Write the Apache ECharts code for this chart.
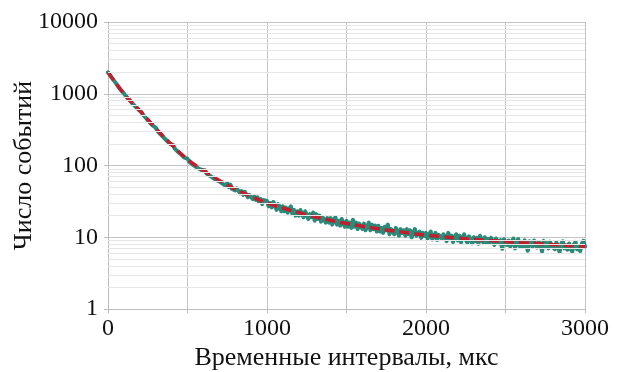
<!doctype html>
<html>
<head>
<meta charset="utf-8">
<script src="https://cdn.jsdelivr.net/npm/echarts@6/dist/echarts.min.js"></script>
<style>
    html, body {margin: 0; padding: 0; background: #fff;}
    #chart {width: 619px; height: 372px;}
</style>
</head>
<body>
<div id="chart"></div>
<script>
    // измерения: шаг 10 мкс, 0..3000
    var stepMeas = 10;
    var counts = [
        1985, 1890, 1720, 1642, 1498, 1430, 1305, 1248, 1136, 1085,
        1012, 938, 905, 840, 815, 748, 732, 672, 655, 604,
        571, 556, 510, 498, 455, 446, 405, 398, 362, 355,
        338, 305, 301, 272, 276, 247, 248, 221, 224, 200,
        190, 193, 172, 174, 155, 160, 142, 146, 129, 131,
        125, 113, 118, 104, 110, 97, 102, 91, 95, 86,
        83, 86, 77, 80, 72, 76, 67, 71, 63, 66,
        60, 63, 56, 59, 52, 57, 50, 54, 47, 50,
        45, 48, 46, 41, 44, 39, 43, 41, 36, 39,
        38, 34, 37, 33, 36, 31, 34, 29, 33, 31,
        32, 27, 30, 26, 31, 28, 24, 29, 27, 23,
        27, 23, 26, 22, 25, 27, 21, 24, 20, 23,
        20, 24, 21, 19, 23, 22, 18, 21, 19, 22,
        17, 21, 18, 20, 16.5, 19, 20, 16, 18.5, 16,
        18.5, 15, 17.5, 19, 15, 17, 14.5, 18, 15.5, 14,
        17, 14, 16, 13.5, 17.5, 14, 16, 13, 15.5, 16,
        13, 15.5, 12.5, 14, 16, 12.5, 15, 13, 14.5, 12,
        14.5, 12, 13.5, 11.5, 14, 12.5, 15, 11, 13, 12.5,
        11, 13.5, 12, 10.5, 13, 11.5, 12.5, 10.5, 13, 11,
        12.5, 10, 11.5, 13, 10.5, 11, 12, 9.8, 11.5, 10.5,
        11.5, 9.5, 11, 12, 9.3, 10.5, 11.5, 9.2, 10.8, 11,
        9.5, 11, 10, 8.8, 11.5, 9.8, 10.5, 8.6, 10.2, 11,
        9, 10.5, 8.5, 10, 11, 9.2, 8.4, 10.3, 9.5, 8.2,
        10, 8.8, 9.8, 8.1, 10.5, 9.2, 8.5, 10, 8.3, 9.5,
        8.4, 9.8, 8.8, 7.8, 9.6, 10.2, 8.2, 9.1, 6.9, 9.4,
        9.3, 7.8, 9.0, 7.4, 8.7, 9.6, 7.0, 8.4, 9.4, 7.5,
        8.6, 7.3, 9.1, 7.9, 6.5, 8.8, 8.2, 7.4, 9.0, 7.7,
        7.2, 8.6, 8.0, 6.3, 8.9, 7.5, 8.3, 7.0, 8.7, 7.6,
        8.1, 6.8, 8.5, 7.3, 6.2, 8.1, 8.8, 7.0, 7.7, 6.7,
        8.2, 6.9, 6.3, 7.9, 8.6, 6.8, 7.5, 6.4, 8.1, 8.9,
        7.4
    ];

    // аппроксимация: шаг 100 мкс
    var stepFit = 100;
    var fit = [2000, 1000, 580, 330, 195, 122, 85, 62, 47, 37,
        30, 25.5, 22, 19.3, 17.2, 15.5, 14.2, 13.1, 12.2, 11.4,
        10.7, 10.2, 9.7, 9.3, 9.0, 8.7, 8.4, 8.2, 7.9, 7.7, 7.5];

    var xTicks = [0, 1000, 2000, 3000];
    var yMinorGrid = [2, 3, 4, 5, 6, 7, 8, 9, 20, 30, 40, 50, 60, 70, 80, 90,
        200, 300, 400, 500, 600, 700, 800, 900, 2000, 3000, 4000, 5000, 6000, 7000, 8000, 9000];

    var myChart = echarts.init(document.getElementById('chart'));
    var font = '"Liberation Serif", "Times New Roman", serif';

    var option = {
        animation: false,
        grid: {left: 108, right: 34, top: 22, bottom: 63, outerBoundsMode: 'none', containLabel: false},
        xAxis: {
            type: 'value',
            min: 0,
            max: 3000,
            interval: 500,
            name: 'Временные интервалы, мкс',
            nameLocation: 'middle',
            nameGap: 36,
            nameMoveOverlap: false,
            nameTextStyle: {fontFamily: font, fontSize: 26, color: '#111'},
            axisLine: {show: true, lineStyle: {color: '#bdbdbd'}},
            axisTick: {show: true, length: 4, lineStyle: {color: '#bdbdbd'}},
            axisLabel: {
                fontFamily: font, fontSize: 24, color: '#111', margin: 8,
                formatter: function (v) {
                    return xTicks.indexOf(v) >= 0 ? String(v) : '';
                }
            },
            splitLine: {show: true, lineStyle: {color: '#c4c4c4', width: 1}}
        },
        yAxis: {
            type: 'log',
            logBase: 10,
            min: 1,
            max: 10000,
            name: 'Число событий',
            nameLocation: 'middle',
            nameGap: 71,
            nameMoveOverlap: false,
            nameRotate: 90,
            nameTextStyle: {fontFamily: font, fontSize: 26, color: '#111'},
            axisLine: {show: true, lineStyle: {color: '#bdbdbd'}},
            axisTick: {show: true, length: 4, lineStyle: {color: '#bdbdbd'}},
            axisLabel: {
                fontFamily: font, fontSize: 24, color: '#111', margin: 10,
                formatter: function (v) { return String(Math.round(v)); }
            },
            splitLine: {show: true, lineStyle: {color: '#c4c4c4', width: 1}}
        },
        series: [
            {
                type: 'line',
                data: [],
                z: 1,
                silent: true,
                markLine: {
                    silent: true,
                    symbol: 'none',
                    animation: false,
                    label: {show: false},
                    lineStyle: {color: '#e6e6e6', width: 1, type: 'solid'},
                    data: yMinorGrid.map(function (v) { return {yAxis: v}; })
                }
            },
            {
                type: 'line',
                data: counts.map(function (v, i) { return [i * stepMeas, v]; }),
                showSymbol: false,
                sampling: 'none',
                z: 3,
                lineStyle: {color: '#2b8a78', width: 4, type: 'solid', join: 'round', cap: 'round'}
            },
            {
                type: 'line',
                data: fit.map(function (v, i) { return [i * stepFit, v]; }),
                showSymbol: false,
                smooth: true,
                z: 4,
                lineStyle: {color: '#bf1f2e', width: 3.5, type: [10, 5]}
            }
        ]
    };

    myChart.setOption(option);
</script>
</body>
</html>
